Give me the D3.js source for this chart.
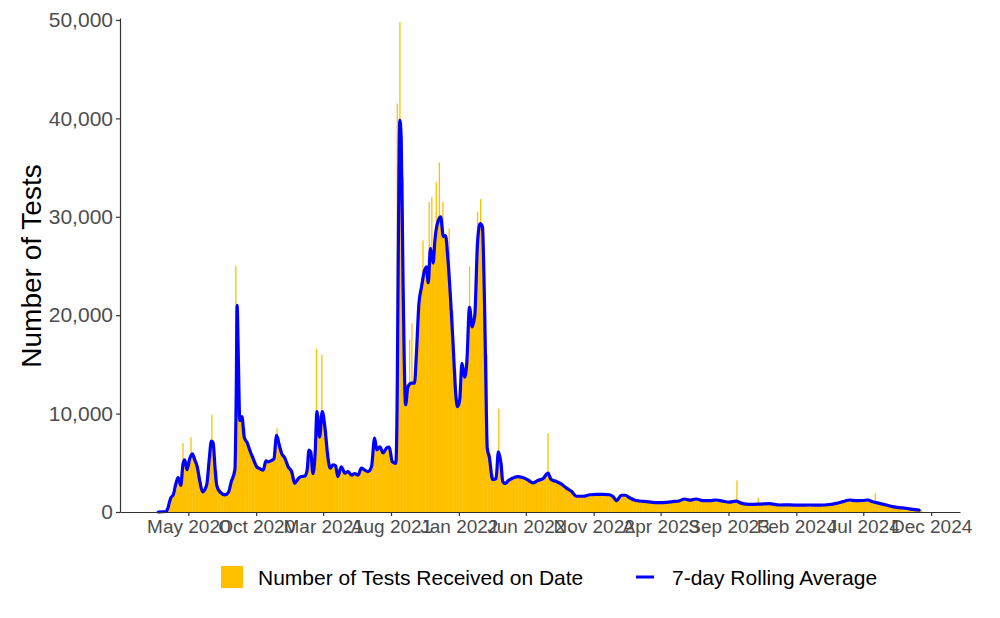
<!DOCTYPE html>
<html><head><meta charset="utf-8">
<script src="https://cdn.jsdelivr.net/npm/d3@7"></script>
<style>body{margin:0;background:#fff}</style>
</head><body><svg id="c" width="1000" height="618"></svg>
<script>
// ---- data ----
const weekStart = "2020-02-23";
const weeklyTests = [0,0,50,700,1500,2300,3500,2900,5200,4500,
 5600,5700,4700,3100,2100,2600,5300,7300,4200,2300,
 1900,1750,1900,2900,4200,17000,9500,8500,7200,6300,
 5500,4800,4500,4300,4900,5100,5200,5800,7600,6300,
 5600,4900,4300,3500,2900,3400,3600,3700,5800,5000,
 5000,9800,9000,9200,6000,4500,4800,4400,4000,4400,
 4000,4000,3800,3900,3800,4400,4300,4100,4400,6800,
 6500,6600,6000,6400,6500,5200,5000,32000,34000,13000,
 12500,13000,13200,17500,22500,24500,25000,25500,25500,28500,
 30000,28800,28000,25500,20500,14500,10800,12800,14200,15500,
 20500,19000,23500,29000,29000,16000,6000,3800,3300,5600,
 5000,3000,3000,3300,3450,3550,3600,3500,3350,3200,
 3000,3000,3200,3300,3450,3800,3500,3200,3100,2900,
 2700,2450,2250,2050,1700,1600,1600,1650,1700,1750,
 1800,1800,1800,1800,1800,1750,1550,1200,1400,1700,
 1700,1550,1350,1220,1150,1100,1080,1050,1000,980,
 970,960,970,980,1000,1050,1080,1120,1200,1300,
 1250,1200,1270,1320,1250,1150,1150,1150,1180,1220,
 1180,1120,1080,1020,1020,1060,1100,950,850,800,
 790,780,790,800,820,840,850,830,780,740,
 710,710,715,720,710,700,690,700,705,710,
 710,700,690,700,720,740,770,820,880,960,
 1040,1120,1200,1200,1160,1150,1160,1180,1220,1120,
 1040,960,880,800,720,640,550,500,450,420,
 390,350,300,260,230,200];

const spikeDates = ["2020-04-19","2020-05-07","2020-06-23","2020-08-16","2020-08-24","2020-11-17",
 "2021-02-14","2021-02-26","2021-08-15","2021-08-21","2021-09-12","2021-09-17","2021-10-12",
 "2021-10-26","2021-11-01","2021-11-11","2021-11-18","2021-11-26","2021-12-10","2022-01-25",
 "2022-02-12","2022-02-19","2022-04-01","2022-07-21","2023-09-20","2023-11-07","2024-07-28"];
const spikeValues = [7000,7600,9900,25000,11000,8500,16600,16000,41500,49800,17500,19200,27600,
 31500,32000,33500,35500,31500,28800,25000,30500,31800,10500,8000,3200,1450,1900];

const avgDates = ["2020-02-23","2020-03-12","2020-03-16","2020-03-22","2020-03-28","2020-04-03","2020-04-08","2020-04-14","2020-04-19","2020-04-23",
 "2020-04-28","2020-05-04","2020-05-10","2020-05-15","2020-05-21","2020-05-27","2020-06-02","2020-06-07","2020-06-12","2020-06-17",
 "2020-06-22","2020-06-26","2020-06-30","2020-07-04","2020-07-11","2020-07-23","2020-07-30","2020-08-06","2020-08-14","2020-08-17",
 "2020-08-19","2020-08-22","2020-08-25","2020-08-30","2020-09-04","2020-09-11","2020-09-18","2020-09-24","2020-10-02","2020-10-09",
 "2020-10-17","2020-10-23","2020-10-28","2020-11-05","2020-11-10","2020-11-16","2020-11-21","2020-11-27","2020-12-05","2020-12-12",
 "2020-12-20","2020-12-27","2021-01-04","2021-01-11","2021-01-19","2021-01-24","2021-01-28","2021-02-01","2021-02-06","2021-02-11",
 "2021-02-15","2021-02-21","2021-02-27","2021-03-05","2021-03-12","2021-03-17","2021-03-23","2021-03-29","2021-04-03","2021-04-11",
 "2021-04-19","2021-04-26","2021-05-04","2021-05-11","2021-05-19","2021-05-26","2021-06-03","2021-06-10","2021-06-18","2021-06-25",
 "2021-06-30","2021-07-07","2021-07-14","2021-07-22","2021-07-28","2021-08-04","2021-08-12","2021-08-15","2021-08-17","2021-08-21",
 "2021-08-24","2021-08-28","2021-09-03","2021-09-08","2021-09-16","2021-09-23","2021-09-27","2021-10-03","2021-10-09","2021-10-14",
 "2021-10-20","2021-10-24","2021-10-29","2021-11-04","2021-11-08","2021-11-13","2021-11-21","2021-11-27","2021-12-02","2021-12-07",
 "2021-12-13","2021-12-19","2021-12-25","2021-12-29","2022-01-03","2022-01-08","2022-01-14","2022-01-19","2022-01-25","2022-01-31",
 "2022-02-06","2022-02-12","2022-02-18","2022-02-23","2022-02-28","2022-03-03","2022-03-06","2022-03-11","2022-03-18","2022-03-26",
 "2022-03-31","2022-04-06","2022-04-10","2022-04-16","2022-04-23","2022-05-03","2022-05-14","2022-05-25","2022-06-06","2022-06-17",
 "2022-06-28","2022-07-10","2022-07-21","2022-07-28","2022-08-09","2022-08-20","2022-08-31","2022-09-12","2022-09-23","2022-10-08",
 "2022-10-23","2022-11-07","2022-11-22","2022-12-07","2022-12-15","2022-12-23","2023-01-02","2023-01-12","2023-01-21","2023-02-01",
 "2023-02-12","2023-02-28","2023-03-14","2023-03-29","2023-04-14","2023-04-28","2023-05-14","2023-05-25","2023-06-05","2023-06-20",
 "2023-07-05","2023-07-20","2023-08-04","2023-08-19","2023-09-03","2023-09-18","2023-09-30","2023-10-11","2023-10-26","2023-11-10",
 "2023-12-02","2023-12-25","2024-01-16","2024-02-08","2024-03-02","2024-03-24","2024-04-16","2024-05-01","2024-05-16","2024-05-31",
 "2024-06-15","2024-06-30","2024-07-11","2024-07-22","2024-08-06","2024-08-22","2024-09-05","2024-09-20","2024-10-05","2024-10-20",
 "2024-11-04"];
const avgValues = [0,50,400,1400,1750,2900,3500,2700,4900,5300,
 4300,5400,5900,5350,4600,3100,2050,2250,2900,5300,
 7200,7000,4600,2700,2050,1750,1950,3100,4300,12000,
 21000,15000,9300,9700,7600,7000,6100,5450,4600,4400,
 4250,5200,5100,5250,5400,7800,7000,6000,5450,4600,
 4100,2900,3400,3600,3650,4300,6300,6100,3900,6000,
 10200,7600,10200,8600,5450,4450,4800,4700,3600,4600,
 3950,4100,3750,3900,3750,4450,4250,4100,4600,7500,
 6300,6630,6000,6500,6600,5100,4950,12000,23900,39800,
 38000,23900,10900,12700,13100,13100,15800,21200,22900,24250,
 24900,23300,26800,25300,27600,29200,30000,28000,28100,25900,
 21900,17100,12000,10700,11400,15100,13700,15200,20800,18800,
 20000,27300,29300,29000,21000,13000,6500,5500,3300,3400,
 6100,4950,3100,2900,3200,3450,3600,3500,3250,2950,
 3200,3400,3950,3300,3100,2850,2450,2100,1600,1600,
 1750,1800,1800,1750,1550,1150,1700,1700,1450,1220,
 1120,1050,980,960,980,1050,1150,1320,1200,1320,
 1150,1150,1220,1100,1000,1100,900,800,780,800,
 850,710,720,690,710,690,760,880,1050,1220,
 1150,1170,1220,1050,880,710,540,440,380,270,
 200];

const yTicks = [0,10000,20000,30000,40000,50000];
const xTickLabels = ["May 2020","Oct 2020","Mar 2021","Aug 2021","Jan 2022","Jun 2022",
 "Nov 2022","Apr 2023","Sep 2023","Feb 2024","Jul 2024","Dec 2024"];
const legendLabels = ["Number of Tests Received on Date","7-day Rolling Average"];

// ---- drawing ----
const barColor = "#FFC000", lineColor = "#0000FF";
const font = "'Liberation Sans', Arial, Helvetica, sans-serif";
const svg = d3.select("#c");
const parse = d3.utcParse("%Y-%m-%d");
const parseTick = d3.utcParse("%b %Y");
const DAY = 864e5;
const start = parse(weekStart);

const bars = weeklyTests.map((v,i)=>({x0:new Date(+start+7*i*DAY), x1:new Date(+start+7*(i+1)*DAY), v}));
const dMin = +start, dMax = +bars[bars.length-1].x1;
const pad = (dMax-dMin)*0.05;
const x = d3.scaleUtc().domain([dMin-pad, dMax+pad]).range([120,960]);
const y = d3.scaleLinear().domain([0,50200]).range([512,18]);

svg.append("g").selectAll("rect").data(bars).join("rect")
  .attr("x", d=>x(d.x0)).attr("width", d=>x(d.x1)-x(d.x0)+0.4)
  .attr("y", d=>y(d.v)).attr("height", d=>y(0)-y(d.v))
  .attr("fill", barColor);

const spikes = spikeDates.map((d,i)=>({d:parse(d), v:spikeValues[i]}));
svg.append("g").selectAll("rect").data(spikes).join("rect")
  .attr("x", d=>x(d.d)-0.6).attr("width", 1.3)
  .attr("y", d=>y(d.v)).attr("height", d=>y(0)-y(d.v))
  .attr("fill", barColor);

const avg = avgDates.map((d,i)=>({d:parse(d), v:avgValues[i]}));
svg.append("path").datum(avg)
  .attr("d", d3.line().x(d=>x(d.d)).y(d=>y(d.v)).curve(d3.curveMonotoneX))
  .attr("fill","none").attr("stroke",lineColor).attr("stroke-width",3.2)
  .attr("stroke-linejoin","round").attr("stroke-linecap","round");

// axes
const yAxis = svg.append("g").attr("transform","translate(120,0)")
  .call(d3.axisLeft(y).tickValues(yTicks).tickFormat(d3.format(",")).tickSize(4).tickSizeOuter(0).tickPadding(3));
const xAxis = svg.append("g").attr("transform","translate(0,512)")
  .call(d3.axisBottom(x).tickValues(xTickLabels.map(parseTick)).tickFormat(d3.utcFormat("%b %Y")).tickSize(4).tickSizeOuter(0).tickPadding(4));
[yAxis,xAxis].forEach(g=>{
  g.select(".domain").attr("stroke","#333").attr("stroke-width",1.2);
  g.selectAll(".tick line").attr("stroke","#333").attr("stroke-width",1.2);
  g.selectAll("text").attr("fill","#4D4D4D").style("font-family",font);
});
yAxis.selectAll("text").style("font-size","21px");
xAxis.selectAll("text").style("font-size","19px");

svg.append("text").attr("transform","translate(31,266) rotate(-90)")
  .attr("text-anchor","middle").attr("dominant-baseline","central")
  .style("font-family",font).style("font-size","28px").attr("fill","#000")
  .text("Number of Tests");

// legend
const lg = svg.append("g");
lg.append("rect").attr("x",221).attr("y",566).attr("width",22).attr("height",22).attr("fill",barColor);
lg.append("text").attr("x",258).attr("y",585).text(legendLabels[0]);
lg.append("line").attr("x1",636).attr("x2",654).attr("y1",577).attr("y2",577).attr("stroke",lineColor).attr("stroke-width",3);
lg.append("text").attr("x",672).attr("y",585).text(legendLabels[1]);
lg.selectAll("text").style("font-family",font).style("font-size","21px").attr("fill","#000");
</script></body></html>
